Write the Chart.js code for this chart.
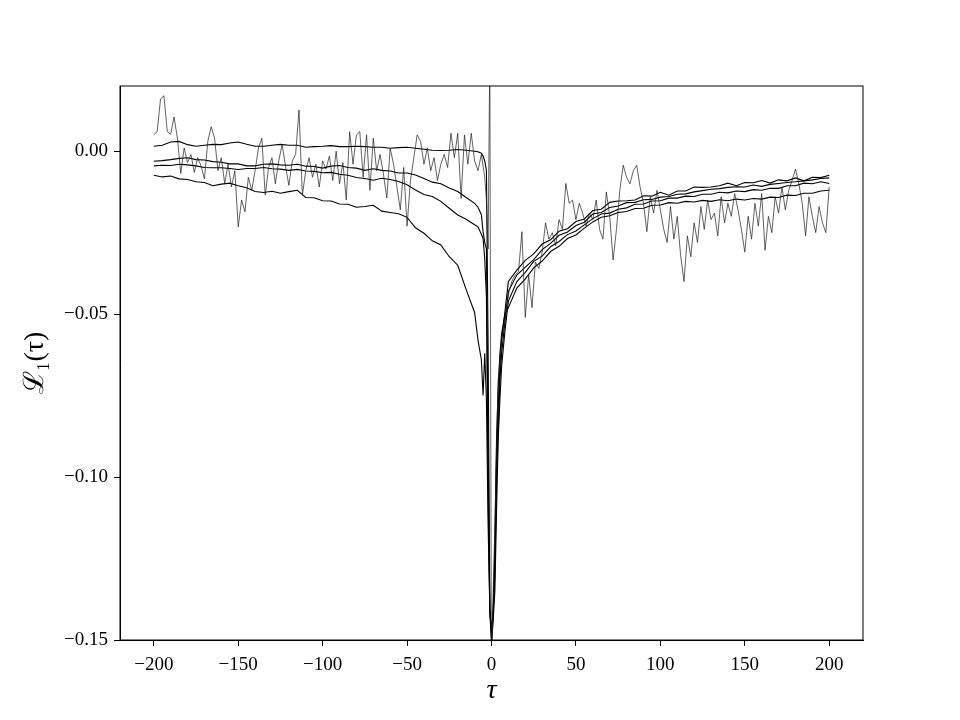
<!DOCTYPE html>
<html>
<head>
<meta charset="utf-8">
<script src="https://cdn.jsdelivr.net/npm/chart.js@4/dist/chart.umd.min.js"></script>
<style>
  body { margin: 0; background: #fff; }
  canvas { display: block; }
</style>
</head>
<body>
<canvas id="lag" width="960" height="720"></canvas>
<script>
// lag grid shared by the four smoother curves
const tauSmooth = [
  -200, -195, -190, -185, -180, -175, -170, -165, -160, -155,
  -150, -145, -140, -135, -130, -125, -120, -115, -110, -105,
  -100, -95, -90, -85, -80, -75, -70, -65, -60, -55,
  -50, -45, -40, -35, -30, -25, -20, -15, -10,
  -8, -6, -5, -4, -3, -2, -1, 0, 1, 2, 3, 4, 5, 6, 8,
  10, 15, 20, 25, 30, 35, 40, 45, 50, 55,
  60, 65, 70, 75, 80, 85, 90, 95, 100, 105,
  110, 115, 120, 125, 130, 135, 140, 145, 150, 155,
  160, 165, 170, 175, 180, 185, 190, 195, 200
];

const curveA = [
  0.0015, 0.0018, 0.0028, 0.0030, 0.0020, 0.0015, 0.0018, 0.0021, 0.0020, 0.0025,
  0.0028, 0.0021, 0.0015, 0.0015, 0.0018, 0.0021, 0.0018, 0.0018, 0.0012, 0.0014,
  0.0015, 0.0017, 0.0014, 0.0014, 0.0015, 0.0014, 0.0012, 0.0012, 0.0009, 0.0011,
  0.0012, 0.0009, 0.0006, 0.0003, 0.0002, 0.0003, 0.0005, 0.0003, 0.0000,
  -0.0002, -0.0006, -0.0015, -0.0030, -0.0060, -0.0600, -0.1400, -0.1480, -0.1430, -0.1250, -0.0950, -0.0780, -0.0660, -0.0580, -0.0490,
  -0.0400, -0.0365, -0.0335, -0.0315, -0.0285, -0.0272, -0.0246, -0.0238, -0.0216, -0.0208,
  -0.0182, -0.0178, -0.0157, -0.0153, -0.0152, -0.0150, -0.0137, -0.0138, -0.0126, -0.0135,
  -0.0122, -0.0122, -0.0110, -0.0111, -0.0110, -0.0106, -0.0098, -0.0106, -0.0096, -0.0097,
  -0.0090, -0.0098, -0.0088, -0.0091, -0.0082, -0.0091, -0.0080, -0.0081, -0.0074
];

const curveB = [
  -0.0031, -0.0029, -0.0026, -0.0022, -0.0020, -0.0026, -0.0027, -0.0032, -0.0034, -0.0039,
  -0.0039, -0.0045, -0.0045, -0.0040, -0.0039, -0.0042, -0.0043, -0.0040, -0.0046, -0.0047,
  -0.0052, -0.0046, -0.0044, -0.0050, -0.0052, -0.0059, -0.0054, -0.0059, -0.0061, -0.0067,
  -0.0067, -0.0073, -0.0084, -0.0095, -0.0100, -0.0113, -0.0124, -0.0142, -0.0160,
  -0.0172, -0.0195, -0.0247, -0.0280, -0.0300, -0.0900, -0.1410, -0.1470, -0.1410, -0.1300, -0.1000, -0.0850, -0.0700, -0.0620, -0.0520,
  -0.0430, -0.0380, -0.0356, -0.0333, -0.0302, -0.0283, -0.0258, -0.0248, -0.0228, -0.0218,
  -0.0193, -0.0188, -0.0173, -0.0168, -0.0158, -0.0157, -0.0149, -0.0148, -0.0141, -0.0139,
  -0.0132, -0.0131, -0.0125, -0.0121, -0.0117, -0.0115, -0.0111, -0.0109, -0.0110, -0.0104,
  -0.0108, -0.0102, -0.0099, -0.0096, -0.0094, -0.0091, -0.0088, -0.0084, -0.0082
];

const curveC = [
  -0.0045, -0.0043, -0.0044, -0.0040, -0.0042, -0.0045, -0.0050, -0.0051, -0.0051, -0.0053,
  -0.0056, -0.0053, -0.0053, -0.0050, -0.0054, -0.0055, -0.0059, -0.0056, -0.0061, -0.0062,
  -0.0066, -0.0065, -0.0071, -0.0074, -0.0081, -0.0084, -0.0089, -0.0083, -0.0087, -0.0093,
  -0.0103, -0.0119, -0.0133, -0.0139, -0.0154, -0.0175, -0.0196, -0.0209, -0.0226,
  -0.0232, -0.0255, -0.0267, -0.0330, -0.0450, -0.1050, -0.1420, -0.1500, -0.1440, -0.1350, -0.1100, -0.0880, -0.0760, -0.0660, -0.0550,
  -0.0460, -0.0400, -0.0372, -0.0338, -0.0322, -0.0293, -0.0277, -0.0256, -0.0245, -0.0226,
  -0.0207, -0.0193, -0.0190, -0.0178, -0.0174, -0.0163, -0.0162, -0.0153, -0.0152, -0.0144,
  -0.0144, -0.0138, -0.0139, -0.0132, -0.0132, -0.0126, -0.0128, -0.0122, -0.0124, -0.0118,
  -0.0120, -0.0114, -0.0114, -0.0106, -0.0106, -0.0098, -0.0100, -0.0094, -0.0099
];

const curveD = [
  -0.0074, -0.0079, -0.0076, -0.0085, -0.0087, -0.0094, -0.0096, -0.0106, -0.0101, -0.0098,
  -0.0106, -0.0112, -0.0124, -0.0127, -0.0123, -0.0129, -0.0124, -0.0120, -0.0142, -0.0143,
  -0.0152, -0.0153, -0.0162, -0.0163, -0.0172, -0.0170, -0.0166, -0.0184, -0.0188, -0.0192,
  -0.0203, -0.0235, -0.0252, -0.0275, -0.0288, -0.0324, -0.0350, -0.0425, -0.0495,
  -0.0580, -0.0640, -0.0750, -0.0620, -0.0765, -0.1150, -0.1400, -0.1500, -0.1400, -0.1200, -0.0880, -0.0720, -0.0620, -0.0560, -0.0500,
  -0.0480, -0.0420, -0.0392, -0.0358, -0.0337, -0.0308, -0.0292, -0.0268, -0.0257, -0.0236,
  -0.0217, -0.0203, -0.0198, -0.0188, -0.0185, -0.0176, -0.0175, -0.0166, -0.0165, -0.0158,
  -0.0160, -0.0154, -0.0156, -0.0151, -0.0154, -0.0149, -0.0152, -0.0147, -0.0150, -0.0145,
  -0.0147, -0.0141, -0.0142, -0.0135, -0.0136, -0.0129, -0.0129, -0.0122, -0.0120
];

// lag grid of the noisy (thin) curve
const tauNoisy = [
  -200, -198, -196, -194, -192, -190, -188, -186, -184, -182,
  -180, -178, -176, -174, -172, -170, -168, -166, -164, -162,
  -160, -158, -156, -154, -152, -150, -148, -146, -144, -142,
  -140, -138, -136, -134, -132, -130, -128, -126, -124, -122,
  -120, -118, -116, -114, -112, -110, -108, -106, -104, -102,
  -100, -98, -96, -94, -92, -90, -88, -86, -84, -82,
  -80, -78, -76, -74, -72, -70, -68, -66, -64, -62,
  -60, -58, -56, -54, -52, -50, -48, -46, -44, -42,
  -40, -38, -36, -34, -32, -30, -28, -26, -24, -22,
  -20, -18, -16, -14, -12, -10, -8, -6, -4,
  -3, -2, -1, 0, 1, 2, 3,
  4, 6, 8, 10, 12, 14, 16, 18, 20, 22,
  24, 26, 28, 30, 32, 34, 36, 38, 40, 42,
  44, 46, 48, 50, 52, 54, 56, 58, 60, 62,
  64, 66, 68, 70, 72, 74, 76, 78, 80, 82,
  84, 86, 88, 90, 92, 94, 96, 98, 100, 102,
  104, 106, 108, 110, 112, 114, 116, 118, 120, 122,
  124, 126, 128, 130, 132, 134, 136, 138, 140, 142,
  144, 146, 148, 150, 152, 154, 156, 158, 160, 162,
  164, 166, 168, 170, 172, 174, 176, 178, 180, 182,
  184, 186, 188, 190, 192, 194, 196, 198, 200
];

const curveNoisy = [
  0.0050, 0.0060, 0.0160, 0.0170, 0.0060, 0.0052, 0.0105, 0.0040, -0.0068, 0.0010,
  -0.0035, -0.0010, -0.0065, -0.0020, -0.0045, -0.0085, 0.0030, 0.0075, 0.0040, -0.0060,
  -0.0020, -0.0100, -0.0040, -0.0110, -0.0060, -0.0232, -0.0150, -0.0186, -0.0080, -0.0120,
  -0.0060, 0.0010, 0.0040, -0.0135, -0.0050, -0.0020, -0.0100, -0.0030, 0.0020, -0.0045,
  -0.0105, -0.0030, -0.0010, 0.0126, -0.0135, -0.0060, -0.0020, -0.0080, -0.0040, -0.0110,
  -0.0030, -0.0055, -0.0015, -0.0090, 0.0000, -0.0100, -0.0035, -0.0150, 0.0060, -0.0040,
  0.0050, 0.0060, -0.0080, 0.0050, -0.0120, 0.0040, -0.0060, -0.0010, -0.0070, -0.0144,
  0.0009, -0.0040, -0.0110, -0.0180, -0.0050, -0.0230, -0.0090, -0.0020, 0.0050, 0.0030,
  -0.0040, 0.0010, -0.0060, -0.0020, -0.0090, -0.0040, -0.0010, -0.0050, 0.0055, -0.0020,
  0.0055, -0.0145, 0.0050, -0.0040, 0.0055, -0.0030, -0.0060, -0.0010, -0.0080,
  -0.0150, -0.0300, 0.0300, -0.1700, -0.1350, -0.1150, -0.0900,
  -0.0700, -0.0580, -0.0520, -0.0440, -0.0400, -0.0380, -0.0370, -0.0247, -0.0510, -0.0380,
  -0.0480, -0.0340, -0.0360, -0.0310, -0.0220, -0.0270, -0.0250, -0.0290, -0.0210, -0.0240,
  -0.0099, -0.0160, -0.0150, -0.0210, -0.0160, -0.0190, -0.0230, -0.0190, -0.0210, -0.0150,
  -0.0240, -0.0270, -0.0125, -0.0200, -0.0334, -0.0240, -0.0120, -0.0043, -0.0080, -0.0100,
  -0.0060, -0.0043, -0.0110, -0.0160, -0.0247, -0.0140, -0.0190, -0.0120, -0.0180, -0.0240,
  -0.0280, -0.0170, -0.0270, -0.0200, -0.0320, -0.0400, -0.0260, -0.0324, -0.0220, -0.0280,
  -0.0170, -0.0240, -0.0150, -0.0210, -0.0190, -0.0260, -0.0140, -0.0220, -0.0160, -0.0200,
  -0.0130, -0.0180, -0.0240, -0.0310, -0.0200, -0.0270, -0.0160, -0.0230, -0.0130, -0.0304,
  -0.0200, -0.0250, -0.0140, -0.0190, -0.0110, -0.0180, -0.0120, -0.0090, -0.0055, -0.0100,
  -0.0160, -0.0260, -0.0140, -0.0200, -0.0250, -0.0170, -0.0220, -0.0250, -0.0110
];

const xTicks = [-200, -150, -100, -50, 0, 50, 100, 150, 200];
const yTicks = [-0.15, -0.10, -0.05, 0.00];

const serif = "'Liberation Serif', 'DejaVu Serif', serif";
const minus = v => (v < 0 ? '\u2212' : '');

function pts(xs, ys) {
  return xs.map((x, i) => ({ x: x, y: ys[i] }));
}

function curve(data, width, color) {
  return {
    data: data,
    borderColor: color,
    borderWidth: width,
    pointRadius: 0,
    tension: 0,
    fill: false,
    clip: 0
  };
}

// matplotlib style closed frame around the plot area
const frame = {
  id: 'frame',
  afterDraw(chart) {
    const { ctx, chartArea } = chart;
    ctx.save();
    ctx.strokeStyle = '#000';
    ctx.lineWidth = 1;
    ctx.strokeRect(chartArea.left, chartArea.top,
      chartArea.right - chartArea.left, chartArea.bottom - chartArea.top);
    ctx.restore();
  }
};

const tickGrid = {
  display: true,
  drawOnChartArea: false,
  drawTicks: true,
  tickLength: 6,
  color: '#000',
  lineWidth: 1
};

new Chart(document.getElementById('lag'), {
  type: 'line',
  data: {
    datasets: [
      curve(pts(tauNoisy, curveNoisy), 0.7, '#1e1e1e'),
      curve(pts(tauSmooth, curveA), 1.1, '#000'),
      curve(pts(tauSmooth, curveB), 1.1, '#000'),
      curve(pts(tauSmooth, curveC), 1.1, '#000'),
      curve(pts(tauSmooth, curveD), 1.1, '#000')
    ]
  },
  options: {
    responsive: false,
    animation: false,
    layout: { padding: { top: 86, right: 97, left: 0, bottom: 0 } },
    plugins: {
      legend: { display: false },
      tooltip: { enabled: false }
    },
    scales: {
      x: {
        type: 'linear',
        min: -220,
        max: 220,
        afterBuildTicks: s => { s.ticks = xTicks.map(v => ({ value: v })); },
        afterFit: s => { s.height = 80; },
        grid: tickGrid,
        border: { display: true, color: '#000', width: 1 },
        ticks: {
          color: '#000',
          padding: 8,
          maxRotation: 0,
          font: { family: serif, size: 19 },
          callback: v => minus(v) + Math.abs(v)
        },
        title: {
          display: true,
          text: 'τ',
          color: '#000',
          font: { family: serif, size: 28, style: 'italic' },
          padding: { top: 0, bottom: 13 }
        }
      },
      y: {
        min: -0.15,
        max: 0.02,
        afterBuildTicks: s => { s.ticks = yTicks.map(v => ({ value: v })); },
        afterFit: s => { s.width = 120; },
        grid: tickGrid,
        border: { display: true, color: '#000', width: 1 },
        ticks: {
          color: '#000',
          padding: 6,
          font: { family: serif, size: 19 },
          callback: v => minus(v) + Math.abs(v).toFixed(2)
        },
        title: {
          display: true,
          text: 'ℒ₁(τ)',
          color: '#000',
          font: { family: serif, size: 28 },
          padding: { top: 19, bottom: 0 }
        }
      }
    }
  },
  plugins: [frame]
});
</script>
</body>
</html>
